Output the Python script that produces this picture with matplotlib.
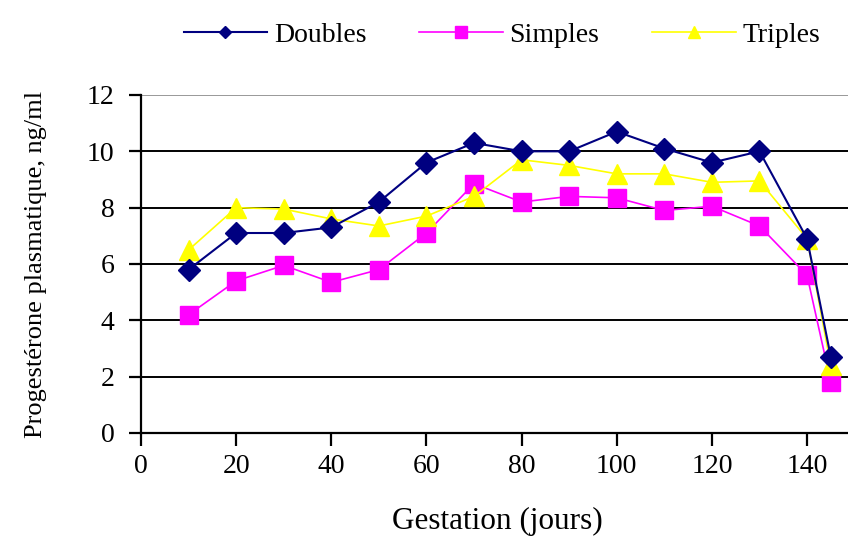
import numpy as np
import matplotlib
matplotlib.use("Agg")
import matplotlib.pyplot as plt

# jours de gestation
jours = [10, 20, 30, 40, 50, 60, 70, 80, 90, 100, 110, 120, 130, 140, 145]

doubles = [5.8, 7.1, 7.1, 7.3, 8.2, 9.6, 10.3, 10.0, 10.0, 10.7, 10.1, 9.6, 10.0, 6.9, 2.7]
simples = [4.2, 5.4, 5.95, 5.35, 5.8, 7.1, 8.85, 8.2, 8.4, 8.35, 7.9, 8.05, 7.35, 5.6, 1.8]
triples = [6.5, 8.0, 7.95, 7.6, 7.35, 7.7, 8.4, 9.7, 9.5, 9.2, 9.2, 8.9, 8.95, 6.9, 2.4]

plt.rcParams['font.family'] = ['Liberation Serif', 'DejaVu Serif']

fig = plt.figure(figsize=(8.48, 5.37), dpi=100)
ax = fig.add_axes([0.1663, 0.1937, 0.8415, 0.6294])

ax.plot(jours, doubles, c="#000080", marker="D", ms=11, lw=1.5, label="Doubles", zorder=3)
ax.plot(jours, simples, c="#ff00ff", marker="s", ms=13.5, lw=1.2, label="Simples", zorder=2)
ax.plot(jours, triples, c="#ffff00", marker="^", ms=14, lw=1.2, label="Triples", zorder=2.5)

ax.set_xlim(0, 150)
ax.set_ylim(0, 12)
ax.set_xticks(np.arange(0, 141, 20))
ax.set_yticks(np.arange(0, 13, 2))
for yv in range(2, 12, 2):
    ax.axhline(yv, c="k", lw=1.4, zorder=1)
ax.axhline(12, c="#999999", lw=1.4, zorder=1)

for s in ["top", "right"]:
    ax.spines[s].set_visible(False)
ax.spines["left"].set_linewidth(1.6)
ax.spines["bottom"].set_linewidth(1.6)
ax.tick_params(direction="out", length=9, width=1.6, labelsize=20, pad=6)
ax.tick_params(axis="y", pad=10)

ax.set_xlabel("Gestation (jours)", fontsize=22.5, labelpad=20)
ax.set_ylabel("Progestérone plasmatique, ng/ml", fontsize=19, labelpad=29)

fig.legend(loc="center", bbox_to_anchor=(0.592, 0.934), ncol=3, frameon=False,
           fontsize=20, handlelength=3.0, columnspacing=1.9, handletextpad=0.25,
           markerscale=0.6)

plt.savefig("out.png", dpi=100)
